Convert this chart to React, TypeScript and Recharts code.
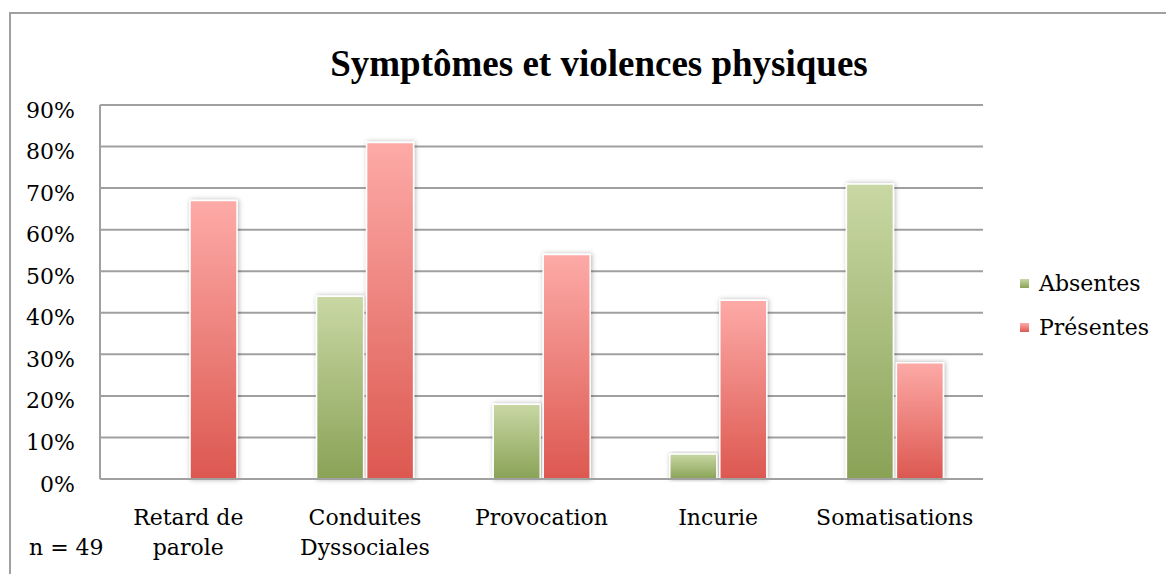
import { BarChart, Bar, XAxis, YAxis, CartesianGrid, Rectangle } from "recharts";

const categories = ["Retard de\nparole", "Conduites\nDyssociales", "Provocation", "Incurie", "Somatisations"];
const absentes = [0, 44, 18, 6, 71];
const presentes = [67, 81, 54, 43, 28];
const yTicks = [0, 10, 20, 30, 40, 50, 60, 70, 80, 90];
const seriesNames = ["Absentes", "Présentes"];

const FONT = '"DejaVu Serif", serif';
const GRID = "#a0a0a0";

const YTick = (props: any) => {
  const { x, y, payload } = props;
  return (
    <text x={x} y={y + 5} textAnchor="end" dominantBaseline="central" fontFamily={FONT} fontSize={22} fill="#000">
      {payload.value}%
    </text>
  );
};

const XTick = (props: any) => {
  const { x, y, payload } = props;
  const lines = String(payload.value).split("\n");
  return (
    <text x={x} y={y} textAnchor="middle" fontFamily={FONT} fontSize={22} fill="#000">
      {lines.map((l, i) => (
        <tspan key={i} x={x} y={y + 38 + i * 30} dominantBaseline="central">
          {l}
        </tspan>
      ))}
    </text>
  );
};

const ShadowBar = (props: any) => <Rectangle {...props} filter="url(#barShadow)" />;

export default function App() {
  const data = categories.map((name, i) => ({ name, absentes: absentes[i], presentes: presentes[i] }));

  return (
    <div style={{ position: "relative", width: 1166, height: 566, overflow: "hidden" }}>
      <div
        style={{
          position: "absolute",
          left: 1,
          top: 4,
          width: 1200,
          height: 600,
          border: `2px solid ${GRID}`,
          boxSizing: "border-box",
        }}
      />
      <BarChart
        width={1166}
        height={566}
        data={data}
        margin={{ top: 97, right: 191, bottom: 0, left: 0 }}
        barGap={3}
        barSize={47}
      >
        <defs>
          <linearGradient id="gGreen" x1="0" y1="0" x2="0" y2="1">
            <stop offset="0%" stopColor="#c9d8a4" />
            <stop offset="100%" stopColor="#89a256" />
          </linearGradient>
          <linearGradient id="gRed" x1="0" y1="0" x2="0" y2="1">
            <stop offset="0%" stopColor="#fdaaa7" />
            <stop offset="100%" stopColor="#dc5850" />
          </linearGradient>
          <filter id="barShadow" x="-20%" y="-10%" width="140%" height="120%">
            <feDropShadow dx="1" dy="0" stdDeviation="2.5" floodColor="#000" floodOpacity="0.3" />
          </filter>
        </defs>
        <CartesianGrid vertical={false} stroke={GRID} strokeWidth={2} />
        <XAxis
          dataKey="name"
          height={95}
          tick={<XTick />}
          tickLine={false}
          tickSize={0}
          tickMargin={0}
          axisLine={{ stroke: GRID, strokeWidth: 2 }}
          interval={0}
        />
        <YAxis
          width={92}
          domain={[0, 90]}
          ticks={yTicks}
          tick={<YTick />}
          tickLine={false}
          tickSize={0}
          tickMargin={25}
          axisLine={{ stroke: GRID, strokeWidth: 2 }}
        />
        <Bar
          dataKey="absentes"
          name={seriesNames[0]}
          fill="url(#gGreen)"
          stroke="#fff"
          strokeWidth={1.5}
          shape={ShadowBar}
          isAnimationActive={false}
        />
        <Bar
          dataKey="presentes"
          name={seriesNames[1]}
          fill="url(#gRed)"
          stroke="#fff"
          strokeWidth={1.5}
          shape={ShadowBar}
          isAnimationActive={false}
        />
      </BarChart>
      <svg
        width={1166}
        height={566}
        style={{ position: "absolute", left: 0, top: 0, pointerEvents: "none" }}
      >
        <text
          x={591}
          y={68}
          textAnchor="middle"
          fontFamily='"Liberation Serif", serif'
          fontWeight="bold"
          fontSize={37}
          fill="#000"
        >
          Symptômes et violences physiques
        </text>
        <text x={21} y={539} dominantBaseline="central" fontFamily={FONT} fontSize={22} fill="#000">
          n = 49
        </text>
        {seriesNames.map((s, i) => (
          <g key={s}>
            <rect x={1012} y={271 + i * 44} width={9} height={9} fill={i === 0 ? "url(#gGreen)" : "url(#gRed)"} />
            <text x={1031} y={275 + i * 44} dominantBaseline="central" fontFamily={FONT} fontSize={22} fill="#000">
              {s}
            </text>
          </g>
        ))}
      </svg>
    </div>
  );
}
